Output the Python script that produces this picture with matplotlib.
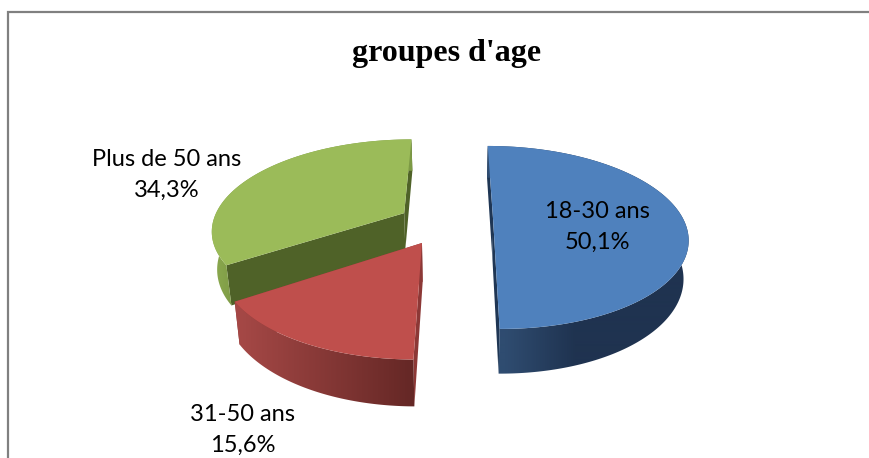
import matplotlib
matplotlib.use('Agg')
import matplotlib.pyplot as plt
from matplotlib.colors import to_rgb
from matplotlib.patches import Polygon
import numpy as np

categories = ['18-30 ans', '31-50 ans', 'Plus de 50 ans']
values = [50.1, 15.6, 34.3]
title = "groupes d'age"

top_colors = ['#4f81bd', '#bf4f4c', '#9bbb59']
cut_colors = ['#1f3654', '#8c3836', '#4f6228']
side_left = ['#2f4c70', '#a54846', '#8aa84e']
side_right = ['#1f3350', '#642725', '#7d9a45']
side_span = [(505, 575), (240, 415), (215, 235)]
# world offset of each exploded slice
offsets = [(0.20, 0.05), (-0.166, -0.177), (-0.27, 0.152)]
label_pos = [(597, 227), (243, 430), (167, 175)]

# perspective of the 3d pie, in pixels
VX, VY = 455, 226.5
A, B, K = 193, 90.4, 0.17
DEPTH = 37.5
SHRINK = 0.978
START = 90


def project(wx, wy, z=0):
    w = 1 + K * wy
    s = SHRINK if z else 1
    return VX + s * A * wx / w, VY - B * wy / w + z * DEPTH / w


fig = plt.figure(figsize=(8.7, 4.58), dpi=100)
ax = fig.add_axes([0, 0, 1, 1])

# chart frame, only left and top are in the crop
ax.plot([8, 8, 870], [458, 12, 12], color='#808080', lw=1.6, solid_joinstyle='miter', zorder=1)

bounds = START - np.cumsum([0] + values) * 3.6
z = 2
for i in [2, 1, 0]:
    ox, oy = offsets[i]
    t = np.radians(np.linspace(bounds[i], bounds[i + 1], 200))
    wx = ox + np.cos(t)
    wy = oy + np.sin(t)

    # cut faces go first, the wall hides the one facing backwards
    for end in [0, -1]:
        xa, ya = project(ox, oy)
        xb, yb = project(wx[end], wy[end])
        xc, yc = project(wx[end], wy[end], 1)
        xd, yd = project(ox, oy, 1)
        ax.fill([xa, xb, xc, xd], [ya, yb, yc, yd], color=cut_colors[i], lw=0, zorder=z)
        z += 1

    # outer wall with a left to right gradient
    ux, uy = project(wx, wy)
    lx, ly = project(wx, wy, 1)
    wall = Polygon(np.c_[np.r_[ux, lx[::-1]], np.r_[uy, ly[::-1]]], closed=True,
                   transform=ax.transData, fc='none', ec='none')
    ax.add_patch(wall)
    x0, x1 = side_span[i]
    xs = np.arange(0, 870)
    f = np.clip((xs - x0) / (x1 - x0), 0, 1)[:, None]
    grad = np.array(to_rgb(side_left[i])) + (np.array(to_rgb(side_right[i])) - np.array(to_rgb(side_left[i]))) * f
    im = ax.imshow(grad[None, :, :], extent=(0, 870, 458, 0), aspect='auto', zorder=z,
                   interpolation='bilinear')
    im.set_clip_path(wall)
    z += 1

    # top face
    px, py = project(np.r_[ox, wx], np.r_[oy, wy])
    ax.fill(px, py, color=top_colors[i], lw=0, zorder=z)
    z += 1

ax.set_xlim(0, 870)
ax.set_ylim(458, 0)
ax.axis('off')

for i in range(3):
    txt = categories[i] + '\n' + ('%.1f%%' % values[i]).replace('.', ',')
    ax.text(label_pos[i][0], label_pos[i][1], txt, ha='center', va='center',
            family='Lato', fontsize=17, color='black', linespacing=1.55, zorder=z)

ax.text(447, 54, title, ha='center', va='center', family='Liberation Serif',
        fontweight='bold', fontsize=23, color='black', zorder=z)

fig.savefig('out.png', dpi=100)
